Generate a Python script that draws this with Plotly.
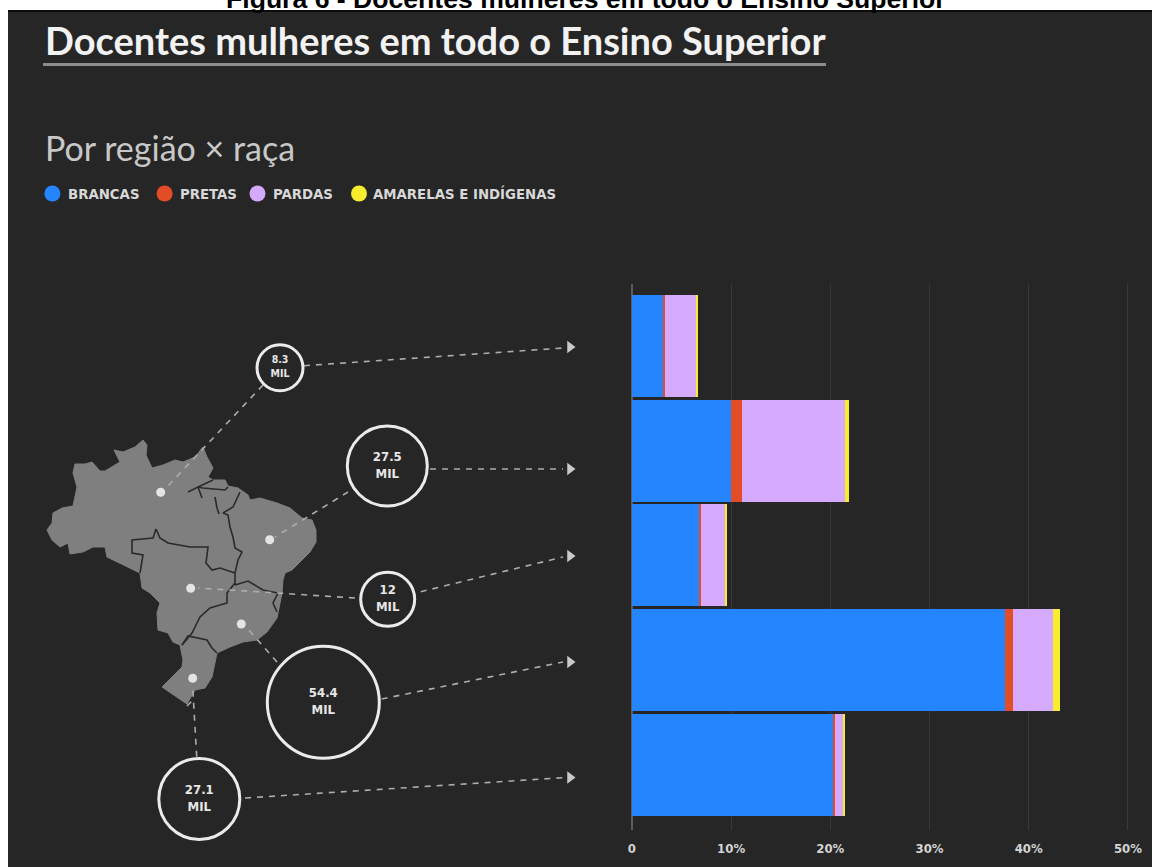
import plotly.graph_objects as go

W, H = 1152, 867
HEAD = "Lato"
SMALL = "DejaVu Sans Condensed, DejaVu Sans"

# ---- data ----
REGIONS = ["Norte", "Nordeste", "Centro-Oeste", "Sudeste", "Sul"]
BRANCAS = [3.15, 10.03, 6.75, 37.6, 20.3]
PRETAS = [0.2, 1.03, 0.25, 0.85, 0.2]
PARDAS = [3.2, 10.44, 2.4, 3.95, 0.8]
AMARELAS = [0.1, 0.35, 0.22, 0.75, 0.2]
X_TICKS = [0, 10, 20, 30, 40, 50]
X_LABELS = ["0", "10%", "20%", "30%", "40%", "50%"]
BUBBLE_TEXT = ["8.3<br>MIL", "27.5<br>MIL", "12<br>MIL", "54.4<br>MIL", "27.1<br>MIL"]

SERIES_NAMES = ["BRANCAS", "PRETAS", "PARDAS", "AMARELAS E INDÍGENAS"]
SERIES_COLORS = ["#2585fe", "#e24d28", "#d5a9fb", "#f8ec2f"]

# ---- annotation geometry on the picture's own pixel scale ----
BUBBLE_X = [280, 387.3, 387.7, 323.3, 199.3]
BUBBLE_Y = [367.7, 466, 599.3, 702.3, 799]
BUBBLE_D = [46, 80, 54, 112, 81]
BUBBLE_FONT = [10.5, 13, 13, 13, 13]
DOT_X = [160.7, 269.7, 190.7, 241.3, 192.7]
DOT_Y = [492.3, 539.7, 588.3, 624, 678.3]
ARROW_X = [570, 570, 570, 570, 570]
ARROW_Y = [347, 469, 556, 662, 777.5]

LEADER_A = [(263, 385, 167, 487), (348, 492, 275, 537), (355, 598, 198, 588),
            (277, 662, 247, 628), (196.7, 756.7, 192.7, 687), (187, 706, 194, 699)]
LEADER_B = [(304, 365.7, 563, 348), (430, 469, 563, 469), (420.7, 591.7, 563, 557),
            (381.7, 699, 563, 662), (245, 798, 563, 777.7)]

MAP_OUTLINE = [(73,473),(75,464),(85,464),(92,462),(100,471),(105,471),(120,462),(114,450),(123,452),
 (135,447),(143,440),(147,445),(146,455),(152,468),(163,465),(175,460),(183,462),(195,457),(203,447),
 (207,457),(213,468),(208,477),(213,480),(225,480),(228,486),(238,488),(248,495),(250,500),(260,498),
 (277,503),(290,508),(302,518),(312,520),(316,530),(316,542),(310,552),(300,562),(292,570),(285,573),
 (283,580),(282,593),(279,610),(277,618),(267,632),(257,640),(243,642),(230,647),(217,653),(215,663),
 (212,677),(205,688),(195,690),(187,704),(162,687),(182,667),(183,660),(180,645),(173,642),(168,633),
 (158,630),(157,613),(160,603),(150,593),(142,588),(140,573),(128,567),(107,557),(105,547),(93,547),
 (83,552),(70,554),(68,543),(60,547),(52,540),(47,530),(52,523),(53,513),(62,508),(73,506),(77,487),(73,473)]
MAP_BORDERS = [
 [(140,573),(142,562),(143,555),(132,553),(132,540),(153,538),(156,529),(160,538),(168,543),(190,547),
  (208,547),(206,563),(212,570),(220,568),(235,573)],
 [(235,585),(235,573),(238,560),(242,552),(235,548),(233,537),(230,527),(228,515),(223,513),(233,507),(240,492)],
 [(215,497),(217,508),(219,514)],
 [(188,492),(198,487),(202,498)],
 [(198,487),(203,488),(225,490),(228,487)],
 [(198,487),(213,480)],
 [(235,583),(227,593),(227,603),(210,608),(200,617),(192,633),(182,645)],
 [(235,585),(248,581),(263,590),(278,593),(273,603),(277,612)],
 [(182,645),(188,636),(207,640),(212,648),(217,653)],
]


def xs(points):
    return [p[0] for p in points]


def ys(points):
    return [p[1] for p in points]


def segs(items):
    out_x, out_y = [], []
    for a, b, c, d in items:
        out_x += [a, c, None]
        out_y += [b, d, None]
    return out_x, out_y


fig = go.Figure()

for name, vals, col in zip(SERIES_NAMES, [BRANCAS, PRETAS, PARDAS, AMARELAS], SERIES_COLORS):
    fig.add_trace(go.Bar(y=REGIONS, x=vals, name=name, orientation="h",
                         marker=dict(color=col, line=dict(width=0)),
                         showlegend=False, xaxis="x", yaxis="y"))

over = dict(xaxis="x2", yaxis="y2", showlegend=False, hoverinfo="skip")

fig.add_trace(go.Scatter(x=xs(MAP_OUTLINE), y=ys(MAP_OUTLINE), mode="lines", fill="toself",
                         fillcolor="#7f7f7f", line=dict(color="#7f7f7f", width=1), **over))
for border in MAP_BORDERS:
    fig.add_trace(go.Scatter(x=xs(border), y=ys(border), mode="lines",
                             line=dict(color="#2a2a2a", width=1.6), **over))

lx, ly = segs(LEADER_A + LEADER_B)
fig.add_trace(go.Scatter(x=lx, y=ly, mode="lines",
                         line=dict(color="#adadad", width=1.6, dash="6px,6px"), **over))
fig.add_trace(go.Scatter(x=DOT_X, y=DOT_Y, mode="markers",
                         marker=dict(color="#e4e4e4", size=9), **over))
fig.add_trace(go.Scatter(x=ARROW_X, y=ARROW_Y, mode="markers",
                         marker=dict(color="#c9c9c9", size=11, symbol="triangle-right"), **over))
fig.add_trace(go.Scatter(x=BUBBLE_X, y=BUBBLE_Y, mode="markers+text", text=BUBBLE_TEXT,
                         textposition="middle center",
                         textfont=dict(family=SMALL, size=BUBBLE_FONT, color="#e6e6e6", weight="bold"),
                         marker=dict(size=BUBBLE_D, color="rgba(0,0,0,0)", opacity=1,
                                     line=dict(color="#ebebeb", width=3)), **over))

# legend row
LEGEND_DOT_X = [52.4, 164.6, 257.5, 359]
LEGEND_TEXT_X = [65.5, 178, 270.5, 371]
LEGEND_Y = 193.5
fig.add_trace(go.Scatter(x=LEGEND_DOT_X, y=[LEGEND_Y] * 4, mode="markers",
                         marker=dict(color=SERIES_COLORS, size=16), **over))
annotations = []
for name, x in zip(SERIES_NAMES, LEGEND_TEXT_X):
    annotations.append(dict(x=x, y=LEGEND_Y, xref="x2", yref="y2", text=name, showarrow=False,
                            xanchor="left", yanchor="middle",
                            font=dict(family=SMALL, size=14.8, color="#d8d8d8", weight="bold")))
annotations += [
    dict(x=586, y=16, xref="x2", yref="y2", text="Figura 6 - Docentes mulheres em todo o Ensino Superior",
         showarrow=False, xanchor="center", yanchor="bottom",
         font=dict(family="Liberation Sans", size=26.6, color="#000000", weight="bold")),
    dict(x=43, y=40, xref="x2", yref="y2", text="Docentes mulheres em todo o Ensino Superior",
         showarrow=False, xanchor="left", yanchor="middle",
         font=dict(family=HEAD, size=38, color="#f2f2f2", weight="bold")),
    dict(x=43, y=147, xref="x2", yref="y2", text="Por região × raça",
         showarrow=False, xanchor="left", yanchor="middle",
         font=dict(family=HEAD, size=34, color="#c8c8c8")),
]

x_left, x_right = 631.9, 1140
y_top, y_bot = 284, 830
fig.update_layout(
    width=W, height=H, autosize=False,
    margin=dict(l=0, r=0, t=0, b=0, pad=0),
    paper_bgcolor="#ffffff", plot_bgcolor="rgba(0,0,0,0)",
    barmode="stack", bargap=0.027,
    annotations=annotations,
    shapes=[
        dict(type="rect", xref="paper", yref="paper", x0=8 / W, x1=1, y0=0, y1=1 - 10 / H,
             fillcolor="#262626", line_width=0, layer="below"),
        dict(type="rect", xref="paper", yref="paper", x0=8 / W, x1=1, y0=1 - 12 / H, y1=1 - 10 / H,
             fillcolor="#0c0c0c", line_width=0, layer="below"),
        dict(type="rect", xref="paper", yref="paper", x0=43 / W, x1=826 / W, y0=1 - 66 / H, y1=1 - 63 / H,
             fillcolor="#8c8c8c", line_width=0, layer="below"),
    ],
    xaxis=dict(domain=[x_left / W, x_right / W], range=[0, (x_right - x_left) / 9.92],
               tickvals=X_TICKS, ticktext=X_LABELS, showgrid=True, gridcolor="#393939", gridwidth=1,
               zeroline=True, zerolinecolor="#5c5c5c", zerolinewidth=2, showline=False,
               ticks="", ticklabelstandoff=9, automargin=False,
               tickfont=dict(family=SMALL, size=13, color="#d4d4d4", weight="bold"),
               anchor="y", fixedrange=True),
    yaxis=dict(domain=[1 - y_bot / H, 1 - y_top / H], range=[4.62, -0.59], type="category",
               categoryorder="array", categoryarray=REGIONS, showgrid=False, zeroline=False,
               showline=False, showticklabels=False, ticks="", anchor="x", fixedrange=True,
               automargin=False),
    xaxis2=dict(domain=[0, 1], range=[0, W], visible=False, anchor="y2", fixedrange=True, automargin=False),
    yaxis2=dict(domain=[0, 1], range=[H, 0], visible=False, anchor="x2", fixedrange=True, automargin=False),
)

fig.write_html("out.html", config=dict(displayModeBar=False),
               post_script="document.body.style.margin='0';document.body.style.overflow='hidden';")
